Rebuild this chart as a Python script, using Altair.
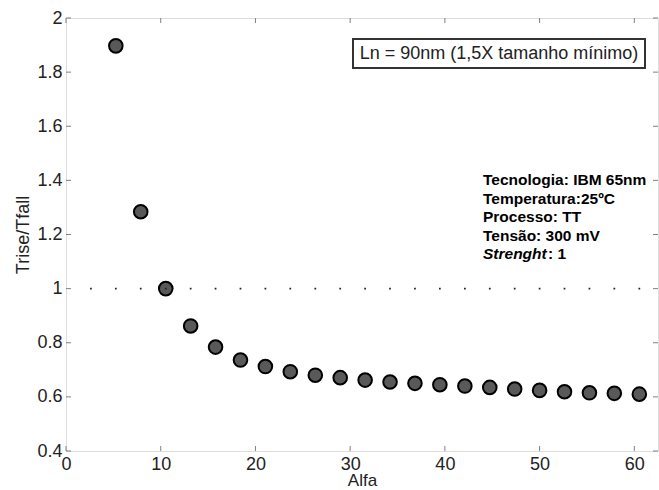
import altair as alt
import pandas as pd

alfa = [5.26, 7.89, 10.53, 13.16, 15.79, 18.42, 21.05, 23.68, 26.32, 28.95, 31.58,
        34.21, 36.84, 39.47, 42.11, 44.74, 47.37, 50.00, 52.63, 55.26, 57.89, 60.53]
ratio = [1.897, 1.284, 1.000, 0.862, 0.784, 0.736, 0.712, 0.693, 0.680, 0.671, 0.662,
         0.655, 0.650, 0.645, 0.640, 0.635, 0.629, 0.624, 0.619, 0.615, 0.613, 0.610]
ref_x = [2.63] + alfa
ref_y = 1.0
x_ticks = [0, 10, 20, 30, 40, 50, 60]
y_ticks = [0.4, 0.6, 0.8, 1.0, 1.2, 1.4, 1.6, 1.8, 2.0]
box_text = "Ln = 90nm (1,5X tamanho mínimo)"
info_lines = ["Tecnologia: IBM 65nm", "Temperatura:25ºC", "Processo: TT", "Tensão: 300 mV"]
strength_label = "Strenght"
strength_value = ": 1"

W, H = 592, 433
FONT = "Liberation Sans"
AXC = "#808080"

df = pd.DataFrame({"Alfa": alfa, "ratio": ratio})
dots = pd.DataFrame({"Alfa": ref_x, "ratio": [ref_y] * len(ref_x)})
xt = pd.DataFrame({"Alfa": x_ticks})
yt = pd.DataFrame({"ratio": y_ticks})

xs = alt.Scale(domain=[0, 62.5], nice=False, zero=False)
ys = alt.Scale(domain=[0.4, 2.0], nice=False, zero=False)

xaxis = alt.Axis(values=x_ticks, ticks=False, domain=False, grid=False, labelFontSize=18,
                 labelFont=FONT, labelColor="#222222", labelPadding=4, title="Alfa",
                 titleFontSize=17, titleFont=FONT, titleFontWeight="normal", titleColor="#222222",
                 titlePadding=-1, labelFlush=False)
yaxis = alt.Axis(values=y_ticks, ticks=False, domain=False, grid=False, labelFontSize=18,
                 labelFont=FONT, labelColor="#222222", labelPadding=4, format="~g",
                 title="Trise/Tfall", titleFontSize=18, titleFont=FONT, titleFontWeight="normal",
                 titleColor="#222222", titlePadding=4, labelFlush=False)

X = alt.X("Alfa:Q", scale=xs, axis=xaxis)
Y = alt.Y("ratio:Q", scale=ys, axis=yaxis)

pts = alt.Chart(df).mark_point(filled=True, shape="circle", size=185, fill="#595959",
                               stroke="#000000", strokeWidth=2, opacity=1).encode(x=X, y=Y)

dotline = alt.Chart(dots).mark_square(size=3, color="#222222", opacity=1).encode(x=X, y=Y)

tick_len = 5
bt = alt.Chart(xt).mark_rule(color=AXC, strokeWidth=1).encode(
    x=X, y=alt.value(H), y2=alt.value(H - tick_len))
tt = alt.Chart(xt).mark_rule(color=AXC, strokeWidth=1).encode(
    x=X, y=alt.value(0), y2=alt.value(tick_len))
lt = alt.Chart(yt).mark_rule(color=AXC, strokeWidth=1).encode(
    y=Y, x=alt.value(0), x2=alt.value(tick_len))
rt = alt.Chart(yt).mark_rule(color=AXC, strokeWidth=1).encode(
    y=Y, x=alt.value(W), x2=alt.value(W - tick_len))

box_df = pd.DataFrame({"t": [box_text]})
box = alt.Chart(box_df).mark_rect(fill="white", stroke="#333333", strokeWidth=2).encode(
    x=alt.value(287), x2=alt.value(579), y=alt.value(21), y2=alt.value(50))
box_t = alt.Chart(box_df).mark_text(font=FONT, fontSize=18, color="#222222", align="center",
                                    baseline="middle").encode(
    x=alt.value(433), y=alt.value(36), text="t:N")

FS = 15.5
LH = 18.6
info_df = pd.DataFrame({"t": ["\n".join(info_lines)]})
info = alt.Chart(info_df).mark_text(font=FONT, fontSize=FS, fontWeight="bold", color="#000000",
                                    align="left", baseline="middle", lineBreak="\n",
                                    lineHeight=LH).encode(
    x=alt.value(417), y=alt.value(162), text="t:N")
s1 = alt.Chart(pd.DataFrame({"t": [strength_label]})).mark_text(
    font=FONT, fontSize=FS, fontWeight="bold", fontStyle="italic", color="#000000",
    align="left", baseline="middle").encode(x=alt.value(417), y=alt.value(162 + 4 * LH), text="t:N")
s2 = alt.Chart(pd.DataFrame({"t": [strength_value]})).mark_text(
    font=FONT, fontSize=FS, fontWeight="bold", color="#000000",
    align="left", baseline="middle").encode(x=alt.value(482), y=alt.value(162 + 4 * LH), text="t:N")

chart = alt.layer(pts, dotline, bt, tt, lt, rt, box, box_t, info, s1, s2).properties(
    width=W, height=H, autosize=alt.AutoSizeParams(type="none"),
    padding={"left": 66, "top": 18, "right": 1, "bottom": 39},
).configure_view(stroke=AXC, strokeWidth=1).configure(background="white")

chart.save("out.html", embed_options={"renderer": "svg", "actions": False})
